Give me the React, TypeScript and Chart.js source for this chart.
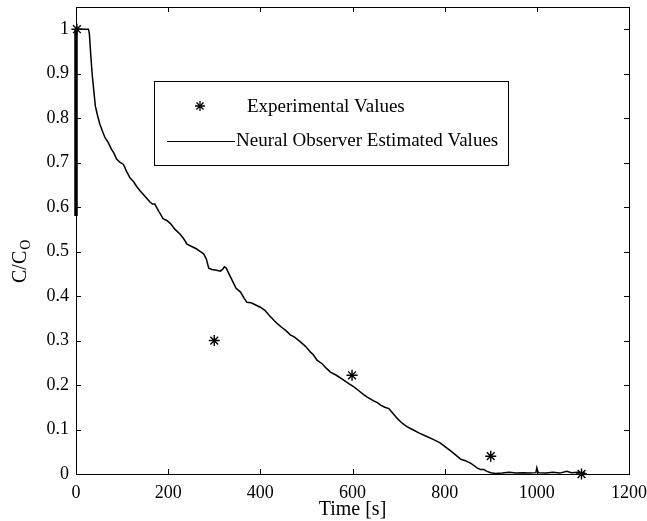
import { useEffect, useRef } from "react";
import { Chart, registerables } from "chart.js";

Chart.register(...registerables);

// Neural observer estimate (time [s], C/Co)
const estTime = [
  0, 27, 29, 32, 35, 38, 42, 47, 52, 57, 63, 70, 77, 82, 88, 95, 103, 110, 117, 125,
  132, 139, 150, 161, 166, 171, 180, 189, 197, 205, 215, 225, 233, 241, 250, 260, 270,
  277, 283, 288, 295, 305, 313, 318, 322, 326, 332, 340, 347, 357, 365, 371, 380, 390,
  400, 410, 420, 430, 437, 446, 455, 465, 475, 487, 498, 509, 515, 523, 534, 543, 552,
  565, 581, 592, 603, 615, 625, 632, 645, 655, 661, 670, 679, 688, 697, 705, 712, 719,
  730, 745, 760, 775, 790, 800, 813, 825, 835, 845, 857, 865, 871, 878, 885, 892, 900,
  910, 925, 940, 955, 970, 985, 998, 1000, 1003, 1020, 1035, 1050, 1065, 1075, 1090, 1105,
];
const estValue = [
  1.0, 1.0, 0.99, 0.943, 0.9, 0.868, 0.827, 0.805, 0.786, 0.772, 0.756, 0.745, 0.73,
  0.722, 0.708, 0.701, 0.696, 0.68, 0.666, 0.657, 0.646, 0.637, 0.624, 0.611, 0.607,
  0.607, 0.59, 0.574, 0.57, 0.563, 0.55, 0.54, 0.53, 0.517, 0.512, 0.507, 0.5, 0.495,
  0.483, 0.463, 0.46, 0.458, 0.456, 0.46, 0.466, 0.463, 0.45, 0.433, 0.418, 0.409,
  0.395, 0.386, 0.385, 0.38, 0.375, 0.368, 0.356, 0.345, 0.338, 0.33, 0.323, 0.313,
  0.307, 0.297, 0.287, 0.274, 0.268, 0.256, 0.248, 0.238, 0.229, 0.222, 0.211, 0.203,
  0.196, 0.186, 0.178, 0.173, 0.165, 0.16, 0.155, 0.15, 0.147, 0.136, 0.125, 0.117,
  0.111, 0.106, 0.1, 0.092, 0.085, 0.078, 0.07, 0.062, 0.052, 0.042, 0.033, 0.03, 0.024,
  0.018, 0.013, 0.01, 0.01, 0.006, 0.003, 0.001, 0.002, 0.004, 0.002, 0.003, 0.002,
  0.003, 0.014, 0.003, 0.002, 0.004, 0.002, 0.006, 0.003, 0.004, 0.002,
];

// initial transient of the observer at t = 0
const transientTime = [0, 0];
const transientValue = [0.58, 1.0];

// experimental values
const expTime = [2, 300, 599, 900, 1097];
const expValue = [1.0, 0.3, 0.222, 0.04, 0.0];

const xMin = 0;
const xMax = 1200;
const xStep = 200;
const yMin = 0;
const yMax = 1.05;
const yStep = 0.1;

const legendLabels = ["Experimental Values", "Neural Observer Estimated Values"];
const xTitle = "Time [s]";
const yTitleMain = "C/C";
const yTitleSub = "O";

const FONT = "'Liberation Serif', 'Times New Roman', serif";

const toPoints = (xs: number[], ys: number[]) => xs.map((x, i) => ({ x, y: ys[i] }));

const framePlugin = {
  id: "matlabFrame",
  afterDraw(chart: any) {
    const { ctx, chartArea, scales } = chart;
    const { left, right, top, bottom } = chartArea;
    ctx.save();
    ctx.strokeStyle = "#000";
    ctx.lineWidth = 1;
    ctx.strokeRect(Math.round(left) + 0.5, Math.round(top) + 0.5, Math.round(right - left), Math.round(bottom - top));
    const tl = 5;
    ctx.beginPath();
    scales.x.ticks.forEach((t: any) => {
      const px = Math.round(scales.x.getPixelForValue(t.value)) + 0.5;
      ctx.moveTo(px, bottom);
      ctx.lineTo(px, bottom - tl);
      ctx.moveTo(px, top);
      ctx.lineTo(px, top + tl);
    });
    scales.y.ticks.forEach((t: any) => {
      const py = Math.round(scales.y.getPixelForValue(t.value)) + 0.5;
      ctx.moveTo(left, py);
      ctx.lineTo(left + tl, py);
      ctx.moveTo(right, py);
      ctx.lineTo(right - tl, py);
    });
    ctx.stroke();

    // axis titles
    ctx.fillStyle = "#000";
    ctx.font = `20px ${FONT}`;
    ctx.textAlign = "center";
    ctx.textBaseline = "alphabetic";
    ctx.fillText(xTitle, (left + right) / 2, 515);

    ctx.save();
    ctx.translate(26, 283);
    ctx.rotate(-Math.PI / 2);
    ctx.textAlign = "left";
    ctx.font = `20px ${FONT}`;
    ctx.fillText(yTitleMain, 0, 0);
    const w = ctx.measureText(yTitleMain).width;
    ctx.font = `14px ${FONT}`;
    ctx.fillText(yTitleSub, w + 1, 4);
    ctx.restore();

    // legend box
    const bx = 154.5, by = 81.5, bw = 354, bh = 84;
    ctx.fillStyle = "#fff";
    ctx.fillRect(bx, by, bw, bh);
    ctx.strokeStyle = "#000";
    ctx.strokeRect(bx, by, bw, bh);
    ctx.fillStyle = "#000";
    ctx.font = `19px ${FONT}`;
    ctx.textAlign = "left";
    ctx.textBaseline = "middle";
    const sx = 200, sy = 106, r = 5;
    ctx.beginPath();
    for (let k = 0; k < 4; k++) {
      const a = (k * Math.PI) / 4;
      ctx.moveTo(sx - r * Math.cos(a), sy - r * Math.sin(a));
      ctx.lineTo(sx + r * Math.cos(a), sy + r * Math.sin(a));
    }
    ctx.lineWidth = 1.3;
    ctx.stroke();
    ctx.fillText(legendLabels[0], 247, 107);
    ctx.beginPath();
    ctx.lineWidth = 1;
    ctx.moveTo(167, 141.5);
    ctx.lineTo(235, 141.5);
    ctx.stroke();
    ctx.fillText(legendLabels[1], 236, 141);
    ctx.restore();
  },
};

export default function App() {
  const ref = useRef<HTMLCanvasElement>(null);
  useEffect(() => {
    document.body.style.margin = "0";
    const chart = new Chart(ref.current as HTMLCanvasElement, {
      type: "scatter",
      data: {
        datasets: [
          {
            label: "transient",
            data: toPoints(transientTime, transientValue),
            showLine: true,
            borderColor: "#000",
            borderWidth: 3.5,
            pointRadius: 0,
            clip: false as any,
          },
          {
            label: legendLabels[1],
            data: toPoints(estTime, estValue),
            showLine: true,
            borderColor: "#000",
            borderWidth: 1.5,
            pointRadius: 0,
            tension: 0,
            clip: false as any,
          },
          {
            label: legendLabels[0],
            data: toPoints(expTime, expValue),
            showLine: false,
            pointStyle: "star",
            pointRadius: 5.5,
            borderColor: "#000",
            backgroundColor: "#000",
            pointBorderWidth: 1.4,
            clip: false as any,
          } as any,
        ],
      },
      options: {
        responsive: false,
        animation: false,
        devicePixelRatio: 1,
        layout: { padding: { top: 7, right: 18, left: 0, bottom: 0 } },
        plugins: { legend: { display: false }, tooltip: { enabled: false } },
        scales: {
          x: {
            type: "linear",
            min: xMin,
            max: xMax,
            grid: { display: false, drawTicks: false },
            border: { display: false },
            ticks: {
              stepSize: xStep,
              includeBounds: false,
              maxRotation: 0,
              color: "#000",
              padding: 8,
              font: { family: FONT, size: 18 },
              callback: (v: any) => String(v),
            },
            afterFit: (s: any) => {
              s.height = 47;
              s.paddingLeft = 0;
              s.paddingRight = 0;
            },
          },
          y: {
            type: "linear",
            min: yMin,
            max: yMax,
            grid: { display: false, drawTicks: false },
            border: { display: false },
            ticks: {
              stepSize: yStep,
              includeBounds: false,
              color: "#000",
              padding: 7,
              font: { family: FONT, size: 18 },
              callback: (v: any) => String(Number(Number(v).toFixed(1))),
            },
            afterFit: (s: any) => {
              s.width = 76;
              s.paddingTop = 0;
              s.paddingBottom = 0;
            },
          },
        },
      },
      plugins: [framePlugin],
    });
    return () => chart.destroy();
  }, []);
  return (
    <div style={{ width: 647, height: 521 }}>
      <canvas ref={ref} width={647} height={521} style={{ display: "block" }} />
    </div>
  );
}
